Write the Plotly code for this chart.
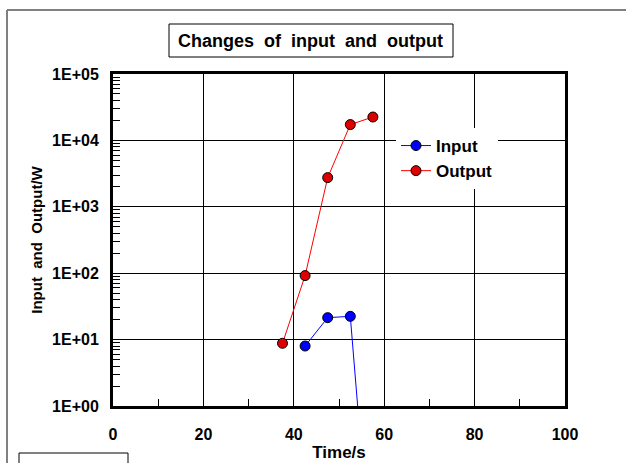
import plotly.graph_objects as go

# data
time_output = [37.5, 42.5, 47.5, 52.5, 57.5]
output_w = [8.8, 92, 2750, 17300, 22500]
time_input = [42.5, 47.5, 52.5, 57.5]
input_w = [8.0, 21.4, 22.4, 0.0016]

y_tickvals = [1, 10, 100, 1000, 10000, 100000]
y_ticktext = ["1E+00", "1E+01", "1E+02", "1E+03", "1E+04", "1E+05"]
y_minor = [m * 10 ** d for d in range(5) for m in range(2, 10)]

FONT = "Liberation Sans, Arial, sans-serif"
W, H = 626, 463
L, R, T, B = 113, 61, 74, 57


def px(x, y):
    # pixel -> paper coords
    return (x - L) / (W - L - R), (H - B - y) / (H - T - B)


fig = go.Figure()
fig.add_trace(go.Scatter(
    x=time_input, y=input_w, name="Input", mode="lines+markers",
    line=dict(color="#0000ff", width=1),
    marker=dict(size=10, color="#0000ff", line=dict(color="black", width=1)),
))
fig.add_trace(go.Scatter(
    x=time_output, y=output_w, name="Output", mode="lines+markers",
    line=dict(color="#ff0000", width=1),
    marker=dict(size=10, color="#dd0000", line=dict(color="black", width=1)),
))

shapes = []
# outer gray frame (top and left edge)
x0, y0 = px(7, 10)
x1, _ = px(640, 10)
_, y1 = px(7, 480)
shapes.append(dict(type="line", xref="paper", yref="paper", x0=x0, y0=y0, x1=x1, y1=y0,
                   line=dict(color="#808080", width=2)))
shapes.append(dict(type="line", xref="paper", yref="paper", x0=x0, y0=y0, x1=x0, y1=y1,
                   line=dict(color="#808080", width=2)))
# title box
bx0, by0 = px(169, 24)
bx1, by1 = px(453, 57)
shapes.append(dict(type="rect", xref="paper", yref="paper", x0=bx0, y0=by0, x1=bx1, y1=by1,
                   line=dict(color="black", width=1), fillcolor="white"))
# small stray box at the bottom left
sx0, sy0 = px(19, 453)
sx1, sy1 = px(128, 475)
shapes.append(dict(type="rect", xref="paper", yref="paper", x0=sx0, y0=sy0, x1=sx1, y1=sy1,
                   line=dict(color="black", width=1), fillcolor="white"))

tx, ty = px(310, 41)
fig.add_annotation(
    x=tx, y=ty, xref="paper", yref="paper", showarrow=False,
    xanchor="center", yanchor="middle",
    text="Changes\u00a0 of\u00a0 input\u00a0 and\u00a0 output",
    font=dict(family=FONT, size=18, color="black", weight="bold"),
)

lx, ly = px(396, 128)
fig.update_layout(
    width=W, height=H,
    margin=dict(l=L, r=R, t=T, b=B, autoexpand=False),
    paper_bgcolor="white", plot_bgcolor="white",
    font=dict(family=FONT, size=16, color="black", weight="bold"),
    shapes=shapes,
    legend=dict(x=lx, y=ly, xanchor="left", yanchor="top", bgcolor="white",
                borderwidth=0, font=dict(size=17), itemwidth=30, tracegroupgap=4),
    xaxis=dict(
        range=[0, 100], dtick=20, tick0=0, automargin=False,
        showgrid=True, gridcolor="black", gridwidth=1,
        showline=True, linecolor="black", linewidth=3, mirror=True,
        ticks="", ticklabelstandoff=12, zeroline=False,
        minor=dict(dtick=10, ticks="inside", ticklen=7, tickcolor="black", tickwidth=1, showgrid=False),
        title=dict(text="Time/s", standoff=4, font=dict(size=17)),
    ),
    yaxis=dict(
        type="log", range=[0, 5], automargin=False,
        tickmode="array", tickvals=y_tickvals, ticktext=y_ticktext,
        showgrid=True, gridcolor="black", gridwidth=1,
        showline=True, linecolor="black", linewidth=3, mirror=True,
        ticks="", ticklabelstandoff=8, zeroline=False,
        minor=dict(tickmode="array", tickvals=y_minor, ticks="inside", ticklen=7,
                   tickcolor="black", tickwidth=1, showgrid=False),
        title=dict(text="Input\u00a0 and\u00a0 Output/W", standoff=6, font=dict(size=15)),
    ),
)

# drop the default 8px page margin so the figure sits at the window's corner
fig.write_html("out.html", config={"displayModeBar": False},
               post_script="document.body.style.margin = '0';")
